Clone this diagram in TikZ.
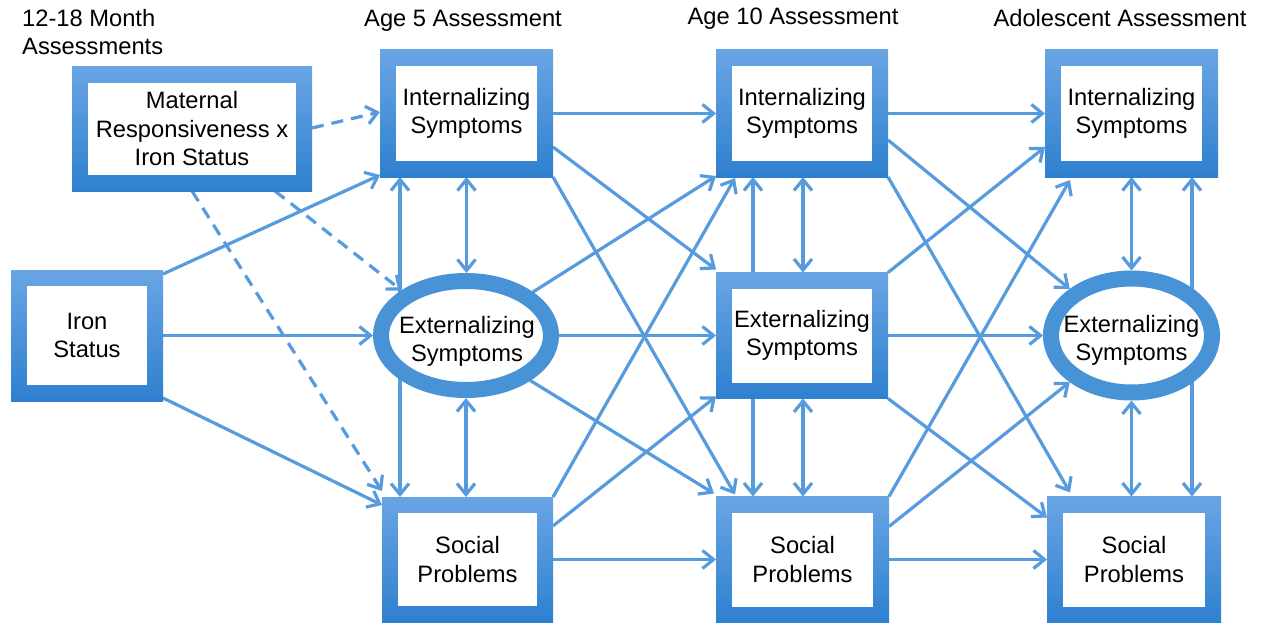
\documentclass[tikz,border=0pt]{standalone}
\usepackage{fontspec}
\setmainfont{Liberation Sans}
\usetikzlibrary{arrows.meta,calc,shapes.geometric}
\definecolor{boxtop}{RGB}{105,165,228}
\definecolor{boxbot}{RGB}{46,128,207}
\definecolor{ringc}{RGB}{72,146,214}
\definecolor{arrc}{RGB}{85,155,222}
\pgfdeclarelayer{back}
\pgfdeclarelayer{bg}
\pgfsetlayers{back,bg,main}
\begin{document}
\begin{tikzpicture}[x=1pt,y=-1pt,
  every node/.style={font=\fontsize{23.7pt}{28.5pt}\selectfont, text=black},
  bx/.style 2 args={rectangle, minimum width=#1pt, minimum height=#2pt, inner sep=0pt, outer sep=0pt,
    top color=boxtop, bottom color=boxbot, align=center,
    path picture={\fill[white] ([shift={(16pt,-16pt)}]path picture bounding box.north west) rectangle ([shift={(-16pt,16pt)}]path picture bounding box.south east);}},
  ell/.style 2 args={ellipse, draw=ringc, line width=16pt, fill=white, minimum width=#1pt, minimum height=#2pt, inner sep=0pt},
  arr/.style={draw=arrc, line width=3.2pt, -{Straight Barb[length=11pt,width=18pt]}},
  darr/.style={draw=arrc, line width=3.2pt, {Straight Barb[length=11pt,width=18pt]}-{Straight Barb[length=11pt,width=18pt]}},
  dsh/.style={arr, dash pattern=on 12pt off 8pt},
  hdr/.style={inner sep=0pt, anchor=base},
  lbl/.style={align=center, inner sep=0pt}
]
\useasboundingbox (0,0) rectangle (1261,623);
\begin{pgfonlayer}{back}
\fill[white] (0,0) rectangle (1261,623);
\end{pgfonlayer}

% headers
\node[hdr, anchor=base west, align=left] (h0) at (22,55) {12-18 Month\\Assessments};
\node[hdr] (h1) at (463,27) {Age 5 Assessment};
\node[hdr] (h2) at (793,25) {Age 10 Assessment};
\node[hdr] (h3) at (1120,27) {Adolescent Assessment};

% nodes
\node[bx={240}{124}] (M) at (192,129) {Maternal\\Responsiveness x\\Iron Status};
\node[bx={152}{131}] (iron) at (87,335.5) {Iron\\Status};

\node[bx={173}{127}] (int5) at (466.5,113.5) {Internalizing\\Symptoms};
\node[ell={170}{109}] (ext5) at (466,335.5) {};
\node[lbl] (ext5t) at ($(ext5.center)+(1,6)$) {Externalizing\\Symptoms};
\node[bx={171}{125}] (soc5) at (467.5,559.5) {Social\\Problems};

\node[bx={172}{127}] (int10) at (802,113.5) {Internalizing\\Symptoms};
\node[bx={172}{126}] (ext10) at (802,335.5) {Externalizing\\Symptoms};
\node[bx={173}{126}] (soc10) at (802.5,559.5) {Social\\Problems};

\node[bx={173}{127}] (intA) at (1131.5,113.5) {Internalizing\\Symptoms};
\node[ell={161}{114}] (extA) at (1131.5,335.5) {};
\node[lbl] (extAt) at ($(extA.center)+(0,5)$) {Externalizing\\Symptoms};
\node[bx={174}{126}] (socA) at (1134,559.5) {Social\\Problems};

\coordinate (i5l) at ($(int5.south west)+(20,0)$);
\coordinate (i10l) at ($(int10.south west)+(37,0)$);
\coordinate (i10m) at ($(int10.south)+(1,0)$);
\coordinate (e10m) at ($(ext10.south)+(1,0)$);
\coordinate (iAr) at ($(intA.south east)+(-26,0)$);

\begin{pgfonlayer}{bg}
% dashed from maternal
\draw[dsh] ($(M.east)+(0,-1)$) -- ($(int5.west)+(0,-1.5)$);
\draw[dsh] ($(M.south west)+(203,0)$) -- (ext5.145);
\draw[dsh] ($(M.south west)+(120,0)$) -- ($(soc5.north west)+(0,-6)$);
% iron
\draw[arr] ($(iron.north east)+(0,4)$) -- ($(int5.south west)+(0,-2)$);
\draw[arr] (iron.east) -- (ext5.west);
\draw[arr] ($(iron.south east)+(0,-3)$) -- ($(soc5.north west)+(0,8)$);
% age 5 covariances
\draw[darr] (int5.south) -- (int5.south |- ext5.north);
\draw[darr] (ext5.south) -- (ext5.south |- soc5.north);
\draw[darr] (i5l) -- (i5l |- soc5.north);
% age 5 -> age 10
\draw[arr] (int5.east) -- (int10.west);
\draw[arr] ($(int5.east)+(0,33.5)$) -- ($(ext10.north west)+(0,-3)$);
\draw[arr] (int5.south east) -- ($(soc10.north west)+(19,-2)$);
\draw[arr] (ext5.33) -- ($(int10.south west)+(0,-1)$);
\draw[arr] (ext5.east) -- (ext5.east -| ext10.west);
\draw[arr] (ext5.-35) -- ($(soc10.north west)+(-2,-3)$);
\draw[arr] (soc5.north east) -- ($(int10.south west)+(19,1)$);
\draw[arr] ($(soc5.north east)+(0,29)$) -- ($(ext10.south west)+(0,-2)$);
\draw[arr] (soc5.east) -- (soc5.east -| soc10.west);
% age 10 covariances
\draw[darr] (i10m) -- (i10m |- ext10.north);
\draw[darr] (e10m) -- (e10m |- soc10.north);
\draw[darr] (i10l) -- (i10l |- soc10.north);
% age 10 -> adolescent
\draw[arr] (int10.east) -- (int10.east -| intA.west);
\draw[arr] ($(int10.east)+(0,26.5)$) -- (extA.143);
\draw[arr] (int10.south east) -- ($(socA.north west)+(23,-4)$);
\draw[arr] (ext10.north east) -- ($(intA.west)+(0,33.5)$);
\draw[arr] (ext10.east) -- (ext10.east -| extA.west);
\draw[arr] (ext10.south east) -- ($(socA.west)+(0,-42)$);
\draw[arr] (soc10.north east) -- ($(intA.south west)+(25,3)$);
\draw[arr] ($(soc10.north east)+(0,30)$) -- (extA.217);
\draw[arr] (soc10.east) -- (soc10.east -| socA.west);
% adolescent covariances
\draw[darr] (intA.south) -- (intA.south |- extA.north);
\draw[darr] (extA.south) -- (extA.south |- socA.north);
\draw[darr] (iAr) -- (iAr |- socA.north);
\end{pgfonlayer}
\end{tikzpicture}
\end{document}
